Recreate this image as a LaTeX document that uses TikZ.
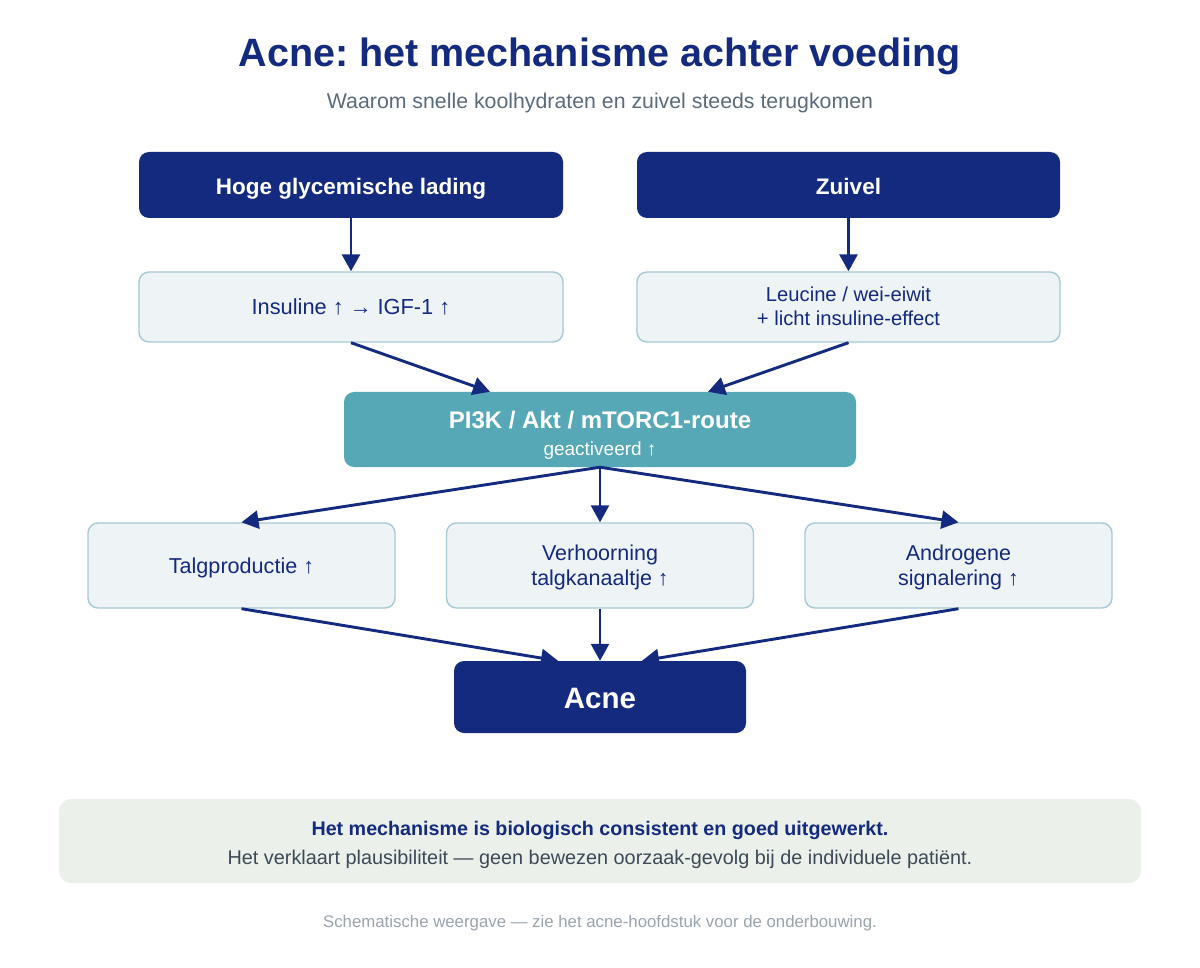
\documentclass[tikz,border=0pt]{standalone}
\usepackage{fontspec}
\setmainfont{Liberation Sans}
\usetikzlibrary{arrows.meta,calc}
\definecolor{navy}{HTML}{142A7E}
\definecolor{teal}{HTML}{56A8B6}
\definecolor{lightfill}{HTML}{EEF3F6}
\definecolor{lightborder}{HTML}{A6CAD4}
\definecolor{notefill}{HTML}{EBF0EA}
\definecolor{subgray}{HTML}{5A6B7B}
\definecolor{notegray}{HTML}{3C4A58}
\definecolor{footgray}{HTML}{9AA4AE}
\newcommand{\fs}[1]{\fontsize{#1}{#1}\selectfont}
\frenchspacing
\tikzset{
  darkbox/.style={fill=navy, rounded corners=10pt, inner sep=0pt},
  lightbox/.style={fill=lightfill, draw=lightborder, line width=1.4pt, rounded corners=10pt, inner sep=0pt},
  tealbox/.style={fill=teal, rounded corners=10pt, inner sep=0pt},
  lbl/.style={anchor=base, inner sep=0pt},
  conn/.style={draw=navy, line width=2.9pt, -{Triangle[length=17pt,width=18pt]}},
}
\begin{document}
\frenchspacing
\begin{tikzpicture}[x=1pt,y=-1pt]
\useasboundingbox (0,0) rectangle (1200,968);
\fill[white] (0,0) rectangle (1200,968);

\node[lbl, text=navy, font=\bfseries\fs{39.5}] (title) at (600,67) {Acne: het mechanisme achter voeding};
\node[lbl, text=subgray, font=\fs{21.3}] (sub) at (600,108.8) {Waarom snelle koolhydraten en zuivel steeds terugkomen};

% boxes
\node[darkbox, minimum width=424pt, minimum height=66pt] (hgl) at (351,185) {};
\node[darkbox, minimum width=423pt, minimum height=66pt] (zui) at (848.5,185) {};
\node[lightbox, minimum width=424pt, minimum height=70pt] (ins) at (351,307) {};
\node[lightbox, minimum width=423pt, minimum height=70pt] (leu) at (848.5,307) {};
\node[tealbox, minimum width=512pt, minimum height=75pt] (pi) at (600,429.5) {};
\node[lightbox, minimum width=307pt, minimum height=85pt] (talg) at (241.5,565.5) {};
\node[lightbox, minimum width=307pt, minimum height=85pt] (verh) at (600,565.5) {};
\node[lightbox, minimum width=307pt, minimum height=85pt] (andr) at (958.5,565.5) {};
\node[darkbox, minimum width=292pt, minimum height=72pt] (acne) at (600,697) {};
\node[fill=notefill, rounded corners=12pt, minimum width=1082pt, minimum height=84pt, inner sep=0pt] (note) at (600,841) {};

% labels
\node[lbl, text=white, font=\bfseries\fs{22.5}] (hglt) at (351,194.5) {Hoge glycemische lading};
\node[lbl, text=white, font=\bfseries\fs{22.5}] (zuit) at (848.5,195) {Zuivel};
\node[lbl, text=navy, font=\fs{21.8}] (inst) at (351,314.5) {Insuline ↑ → IGF-1 ↑};
\node[lbl, text=navy, font=\fs{20.2}] (leut1) at (848.5,301.5) {Leucine / wei-eiwit};
\node[lbl, text=navy, font=\fs{20.2}] (leut2) at (848.5,325.5) {+ licht insuline-effect};
\node[lbl, text=white, font=\bfseries\fs{24}] (pit1) at (600,428.5) {PI3K / Akt / mTORC1-route};
\node[lbl, text=white, font=\fs{19}] (pit2) at (600,455.5) {geactiveerd ↑};
\node[lbl, text=navy, font=\fs{21.6}] (talgt) at (241.5,573.8) {Talgproductie ↑};
\node[lbl, text=navy, font=\fs{21.5}] (verht1) at (600,560) {Verhoorning};
\node[lbl, text=navy, font=\fs{21.5}] (verht2) at (600,585) {talgkanaaltje ↑};
\node[lbl, text=navy, font=\fs{21.5}] (andrt1) at (958.5,560) {Androgene};
\node[lbl, text=navy, font=\fs{21.5}] (andrt2) at (958.5,585) {signalering ↑};
\node[lbl, text=white, font=\bfseries\fs{29.5}] (acnet) at (600,708) {Acne};
\node[lbl, text=navy, font=\bfseries\fs{19.7}] (notet1) at (600,835.5) {Het mechanisme is biologisch consistent en goed uitgewerkt.};
\node[lbl, text=notegray, font=\fs{19.85}] (notet2) at (600,864.5) {Het verklaart plausibiliteit — geen bewezen oorzaak-gevolg bij de individuele patiënt.};
\node[lbl, text=footgray, font=\fs{16.8}] (foot) at (600,927.5) {Schematische weergave — zie het acne-hoofdstuk voor de onderbouwing.};

% connectors
\draw[conn] (hgl.south) -- (ins.north);
\draw[conn] (zui.south) -- (leu.north);
\draw[conn] (ins.south) -- ($(pi.north)+(-110,0)$);
\draw[conn] (leu.south) -- ($(pi.north)+(108,0)$);
\draw[conn] (pi.south) -- (talg.north);
\draw[conn] (pi.south) -- (verh.north);
\draw[conn] (pi.south) -- (andr.north);
\draw[conn] (talg.south) -- ($(acne.north)+(-42,0)$);
\draw[conn] (verh.south) -- (acne.north);
\draw[conn] (andr.south) -- ($(acne.north)+(42,0)$);
\end{tikzpicture}
\end{document}
